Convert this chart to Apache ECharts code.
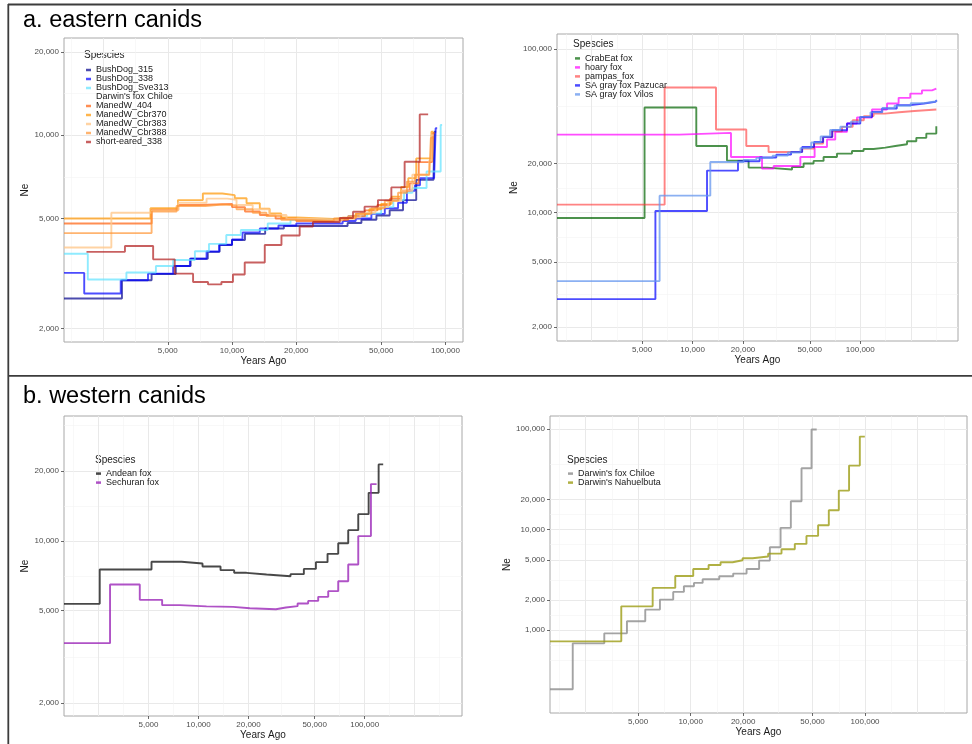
<!DOCTYPE html>
<html>
<head>
<meta charset="utf-8">
<title>Canid Ne through time</title>
<script src="https://cdn.jsdelivr.net/npm/echarts@6/dist/echarts.min.js"></script>
<style>
  html, body { margin: 0; padding: 0; background: #fff; }
  #chart { width: 972px; height: 744px; }
</style>
</head>
<body>
<div id="chart"></div>
<script>
// ---------- Effective population size (Ne) step series, [years ago, Ne] ----------

// a. eastern canids (bush dogs, maned wolves, short-eared dog)
const bushDog315 = [[1632,2570],[3050,2990],[4200,3150],[5450,3370],[6400,3580],[7700,3790],[8750,4010],[10000,4180],[11500,4400],[14300,4600],[17500,4700],[34800,4820],[40400,4950],[47500,5130],[54800,5360],[63300,5830],[73000,6900],[88000,7200],[89000,10300],[90500,10300]];
const bushDog338 = [[1632,3180],[2030,2680],[3010,2990],[4040,3160],[5300,3370],[6350,3580],[7600,3800],[8700,4020],[10000,4200],[11200,4450],[13500,4600],[16500,4720],[20000,4800],[33000,4900],[38000,5000],[45000,5200],[52000,5450],[60000,5700],[66000,6300],[72000,6600],[76000,7000],[88500,7100],[90000,10600],[91500,10600]];
const bushDogSve313 = [[1632,3730],[2110,3010],[3200,3190],[4400,3370],[5300,3540],[6700,3810],[7800,4050],[9400,4360],[11000,4545],[14700,4800],[18800,4950],[25000,5000],[35000,5100],[43000,5220],[50000,5500],[57000,5830],[64000,6200],[70000,6450],[81600,7400],[95000,10900],[96500,10900]];
const manedW404 = [[1632,4800],[4200,5380],[5600,5600],[7000,5650],[10000,5500],[11500,5300],[13500,5150],[16000,5000],[20000,4900],[28000,4950],[35000,5100],[42000,5350],[48000,5600],[55000,5900],[62000,6300],[68000,6700],[75000,8000],[86500,8000],[87500,10200],[89000,10200]];
const manedWCbr370 = [[1632,5000],[4150,5450],[5580,5830],[7300,6160],[9000,6075],[10300,5920],[11700,5680],[13500,5430],[15000,5220],[17000,5050],[20000,4980],[30000,5050],[38000,5200],[44000,5400],[50000,5650],[56000,6000],[62000,6500],[67000,7000],[73000,8250],[86000,10300],[88000,10300]];
const manedWCbr383 = [[1632,3930],[2720,5250],[4200,5350],[5600,5700],[7600,5900],[9500,5850],[10500,5600],[12500,5400],[15000,5150],[18000,4980],[25000,4950],[33000,5050],[40000,5250],[47000,5500],[54000,5800],[62000,6300],[70000,7200],[84000,8100],[86000,10000],[88000,10000]];
const manedWCbr388 = [[1632,4430],[4200,5300],[5500,5550],[7500,5620],[9000,5580],[10500,5400],[12500,5250],[14500,5100],[17000,4950],[22000,4900],[30000,5000],[38000,5200],[45000,5450],[52000,5800],[60000,6200],[66000,6800],[72000,7200],[84000,7200],[85500,9800],[87000,9800]];
const shortEared338 = [[2080,3790],[3150,3980],[4270,3560],[5390,3160],[6570,2950],[7720,2890],[8920,2950],[10100,3140],[11470,3470],[14240,4010],[17050,4340],[20750,4680],[23950,4860],[32000,5020],[36900,5290],[41800,5520],[48300,5830],[55800,6480],[64400,8020],[75800,11900],[83000,11900]];

// a. eastern canids (foxes)
const crabEatFox = [[1554,9270],[5170,43870],[10520,25530],[16030,20800],[21580,18840],[27770,18330],[39170,19010],[45900,19950],[52650,20700],[60400,21870],[72600,22950],[89200,23800],[104600,24480],[120000,24970],[140900,25530],[161700,26160],[189900,27290],[215800,28630],[247500,30400],[283900,33700],[286000,33700]];
const hoaryFox = [[1554,29970],[8330,30700],[16940,21870],[25940,18560],[30420,19280],[43900,21870],[53400,25200],[63300,27960],[70900,31130],[83300,35030],[95500,38140],[117400,42700],[144300,46400],[169200,50300],[198600,53400],[233200,55900],[267600,57300],[284000,57300]];
const pampasFox = [[1554,11190],[6810,58150],[13790,32180],[20900,25530],[28380,23470],[44900,24620],[53000,26420],[60000,29000],[68000,31460],[77800,33400],[90000,36700],[105000,38900],[120000,40300],[140000,41100],[170000,41800],[210000,42700],[284000,42800]];
const grayFoxPazucar = [[1554,2962],[6000,10230],[12190,18060],[18650,20590],[25100,21710],[31550,22610],[38640,23470],[45000,25200],[53000,27000],[60000,29000],[68000,31860],[83300,35030],[100000,38430],[117400,41200],[135000,43300],[165000,45400],[200000,46400],[240000,47500],[280000,48600],[286000,48600]];
const grayFoxVilos = [[1554,3816],[6357,12700],[12750,20380],[20150,21000],[24000,21600],[30000,22300],[37000,23300],[44000,24800],[51000,26800],[58000,29200],[66000,32000],[76000,33500],[88000,36000],[100000,38500],[115000,41000],[135000,43500],[160000,45000],[200000,46700],[240000,47800],[280000,48300],[286000,48300]];

// b. western canids
const andeanFox = [[1550,5350],[2543,7527],[5213,8120],[7900,7990],[10570,7756],[13570,7475],[16390,7280],[19460,7160],[25680,7040],[35800,7185],[43060,7570],[50880,8095],[59800,8790],[69340,9770],[79650,11120],[91530,13030],[105700,16100],[121400,21350],[129300,21350]];
const sechuranFox = [[1550,3623],[2934,6486],[4431,5567],[6040,5281],[7716,5217],[11170,5190],[16160,5120],[20370,5070],[29220,5160],[33570,5230],[39480,5370],[45700,5510],[52530,5735],[60360,6070],[69340,6700],[79650,7910],[91530,10480],[109100,17560],[118000,17560]];
const darwinChiloe = [[1563,258],[2110,739],[3200,929],[4315,1224],[5495,1600],[6670,2012],[7947,2399],[9150,2728],[10450,2950],[11720,3210],[14590,3430],[17540,3650],[20930,4060],[24700,4915],[28460,6667],[32780,10400],[37540,19140],[43220,40700],[49330,98860],[52800,98860]];
const darwinNahuelbuta = [[1563,774],[4004,1725],[6060,2630],[8165,3458],[10350,4060],[12680,4450],[14850,4730],[17400,4950],[19860,5190],[22650,5390],[27830,5770],[33190,6370],[39550,7200],[46130,8650],[53790,11040],[61960,15570],[70700,24420],[80950,43290],[93300,84000],[99700,84000]];

// ---------- Axis breaks and tick labels ----------
const yearBreaks = [2500, 5000, 10000, 20000, 50000, 100000, 200000];
const yearLabels = [5000, 10000, 20000, 50000, 100000];
const neBreaksA1 = [2000, 5000, 10000, 20000, 100000];
const neLabelsA1 = [2000, 5000, 10000, 20000];
const neBreaksA2 = [2000, 5000, 10000, 20000, 100000];
const neLabelsA2 = [2000, 5000, 10000, 20000, 100000];
const neBreaksB1 = [2000, 5000, 10000, 20000, 50000];
const neLabelsB1 = [2000, 5000, 10000, 20000];
const neBreaksB2 = [1000, 2000, 5000, 10000, 20000, 100000];
const neLabelsB2 = [1000, 2000, 5000, 10000, 20000, 100000];

const panelTitles = ['a. eastern canids', 'b. western canids'];
const legendHeading = 'Spescies';

// ---------- Layout and styling ----------
const FONT = '"Liberation Sans", Arial, Helvetica, sans-serif';

const panels = [
  {
    box: { left: 64, top: 38, width: 399, height: 304 },
    x: [1632, 120900], y: [1789, 22480],
    yBreaks: neBreaksA1, yLabels: neLabelsA1, yNameGap: 30,
    series: [
      ['BushDog_315', bushDog315, '#00008B', 0.7],
      ['BushDog_338', bushDog338, '#0000FF', 0.7],
      ['BushDog_Sve313', bushDogSve313, '#5FE3FF', 0.7],
      ['ManedW_404', manedW404, '#FF5E0A', 0.7],
      ['ManedW_Cbr370', manedWCbr370, '#FF9500', 0.7],
      ['ManedW_Cbr383', manedWCbr383, '#FFC88C', 0.8],
      ['ManedW_Cbr388', manedWCbr388, '#FF9433', 0.7],
      ['short-eared_338', shortEared338, '#B01C1C', 0.7]
    ],
    legendNames: ['BushDog_315', 'BushDog_338', 'BushDog_Sve313', "Darwin's fox Chiloe", 'ManedW_404', 'ManedW_Cbr370', 'ManedW_Cbr383', 'ManedW_Cbr388', 'short-eared_338'],
    hiddenKeys: ["Darwin's fox Chiloe"],
    legend: { left: 86, top: 65.5, lineH: 7.7 },
    heading: { x: 84, y: 55.5 }
  },
  {
    box: { left: 557, top: 34, width: 401, height: 307 },
    x: [1554, 382400], y: [1642, 123500],
    yBreaks: neBreaksA2, yLabels: neLabelsA2, yNameGap: 36,
    series: [
      ['CrabEat fox', crabEatFox, '#006400', 0.7],
      ['hoary fox', hoaryFox, '#FF00FF', 0.7],
      ['pampas_fox', pampasFox, '#FF3030', 0.6],
      ['SA gray fox Pazucar', grayFoxPazucar, '#0000FF', 0.7],
      ['SA gray fox Vilos', grayFoxVilos, '#6495ED', 0.75]
    ],
    legendNames: ['CrabEat fox', 'hoary fox', 'pampas_fox', 'SA gray fox Pazucar', 'SA gray fox Vilos'],
    hiddenKeys: [],
    legend: { left: 575, top: 53.9, lineH: 7.65 },
    heading: { x: 573, y: 44 }
  },
  {
    box: { left: 64, top: 416, width: 398, height: 300 },
    x: [1550, 385500], y: [1758, 34520],
    yBreaks: neBreaksB1, yLabels: neLabelsB1, yNameGap: 30,
    series: [
      ['Andean fox', andeanFox, '#1A1A1A', 0.8],
      ['Sechuran fox', sechuranFox, '#9B27B8', 0.8]
    ],
    legendNames: ['Andean fox', 'Sechuran fox'],
    hiddenKeys: [],
    legend: { left: 96, top: 469.1, lineH: 8.4 },
    heading: { x: 95, y: 460 }
  },
  {
    box: { left: 550, top: 416, width: 417, height: 297 },
    x: [1563, 383900], y: [150, 134700],
    yBreaks: neBreaksB2, yLabels: neLabelsB2, yNameGap: 37,
    series: [
      ["Darwin's fox Chiloe", darwinChiloe, '#8C8C8C', 0.8],
      ["Darwin's Nahuelbuta", darwinNahuelbuta, '#9C9C14', 0.8]
    ],
    legendNames: ["Darwin's fox Chiloe", "Darwin's Nahuelbuta"],
    hiddenKeys: [],
    legend: { left: 568, top: 469.1, lineH: 8.4 },
    heading: { x: 567, y: 460 }
  }
];

// Minor gridline positions midway between breaks on the log scale,
// with one extra break step beyond each end.
function minorBreaks(breaks, lo, hi) {
  const b = breaks.map(Math.log10);
  const d = b[1] - b[0];
  const ext = [b[0] - d].concat(b, [b[b.length - 1] + d]);
  const out = [ext[0], ext[ext.length - 1]];
  for (let i = 0; i < ext.length - 1; i++) out.push((ext[i] + ext[i + 1]) / 2);
  return out.map(v => Math.pow(10, v)).filter(v => v > lo && v < hi);
}

const fmt = v => Math.round(v).toLocaleString('en-US');

function gridAxis(g, range, values, color, width) {
  return {
    type: 'log', logBase: 10, gridIndex: g, min: range[0], max: range[1],
    axisLine: { show: false },
    axisTick: { show: false, customValues: values },
    axisLabel: { show: false, customValues: values },
    splitLine: { show: true, lineStyle: { color: color, width: width } },
    silent: true
  };
}

function mainAxis(g, range, labels, name, nameGap, isY) {
  return {
    type: 'log', logBase: 10, gridIndex: g, min: range[0], max: range[1],
    position: isY ? 'left' : 'bottom',
    name: name, nameLocation: 'middle', nameGap: nameGap,
    nameRotate: isY ? 90 : 0,
    nameTextStyle: { fontSize: 10, color: '#1a1a1a', fontFamily: FONT },
    axisLine: { show: false },
    axisTick: { show: true, customValues: labels, length: 3, lineStyle: { color: '#444', width: 0.8 } },
    axisLabel: { show: true, customValues: labels, formatter: fmt, fontSize: 8, color: '#4d4d4d', margin: 5, fontFamily: FONT },
    splitLine: { show: false },
    silent: true
  };
}

const option = {
  animation: false,
  backgroundColor: '#ffffff',
  textStyle: { fontFamily: FONT },
  grid: [], xAxis: [], yAxis: [], series: [], legend: [], graphic: []
};

panels.forEach((p, g) => {
  option.grid.push(Object.assign({ show: true, borderColor: '#a8a8a8', borderWidth: 1, backgroundColor: '#ffffff' }, p.box));

  option.xAxis.push(
    mainAxis(g, p.x, yearLabels, 'Years Ago', 14, false),
    gridAxis(g, p.x, yearBreaks, '#e9e9e9', 1),
    gridAxis(g, p.x, minorBreaks(yearBreaks, p.x[0], p.x[1]), '#f3f3f3', 0.6)
  );
  option.yAxis.push(
    mainAxis(g, p.y, p.yLabels, 'Ne', p.yNameGap, true),
    gridAxis(g, p.y, p.yBreaks, '#e9e9e9', 1),
    gridAxis(g, p.y, minorBreaks(p.yBreaks, p.y[0], p.y[1]), '#f3f3f3', 0.6)
  );

  p.series.forEach(([name, data, color, alpha]) => {
    option.series.push({
      type: 'line', name: name, data: data,
      xAxisIndex: 3 * g, yAxisIndex: 3 * g,
      step: 'end', symbol: 'none', showSymbol: false, clip: true, silent: true,
      lineStyle: { color: color, width: 1.9, opacity: alpha },
      itemStyle: { color: color, opacity: alpha },
      emphasis: { disabled: true }
    });
  });

  option.legend.push({
    orient: 'vertical', left: p.legend.left, top: p.legend.top, padding: 0,
    itemGap: 0, itemWidth: 5, itemHeight: 2.5, icon: 'rect', selectedMode: false,
    textStyle: { fontSize: 9, lineHeight: p.legend.lineH, color: '#1a1a1a', fontFamily: FONT },
    data: p.legendNames.map(n => p.hiddenKeys.includes(n)
      ? { name: n, itemStyle: { color: 'rgba(0,0,0,0)', opacity: 0 } }
      : { name: n })
  });

  option.graphic.push({
    type: 'text', x: p.heading.x, y: p.heading.y, silent: true,
    style: { text: legendHeading, font: '10px ' + FONT, fill: '#1a1a1a', verticalAlign: 'middle' }
  });
});

// Figure frame, section divider and section titles
const frame = '#3c3c3c';
option.graphic.push(
  { type: 'line', silent: true, shape: { x1: 8, y1: 4.5, x2: 972, y2: 4.5 }, style: { stroke: frame, lineWidth: 1.8 } },
  { type: 'line', silent: true, shape: { x1: 8.3, y1: 4, x2: 8.3, y2: 744 }, style: { stroke: frame, lineWidth: 1.8 } },
  { type: 'line', silent: true, shape: { x1: 8, y1: 375.8, x2: 972, y2: 375.8 }, style: { stroke: frame, lineWidth: 1.8 } },
  { type: 'text', x: 23, y: 21, silent: true, style: { text: panelTitles[0], font: '23.5px ' + FONT, fill: '#000', verticalAlign: 'middle' } },
  { type: 'text', x: 23, y: 396.5, silent: true, style: { text: panelTitles[1], font: '23.5px ' + FONT, fill: '#000', verticalAlign: 'middle' } }
);

const chart = echarts.init(document.getElementById('chart'), null, { renderer: 'canvas' });
chart.setOption(option);
</script>
</body>
</html>
